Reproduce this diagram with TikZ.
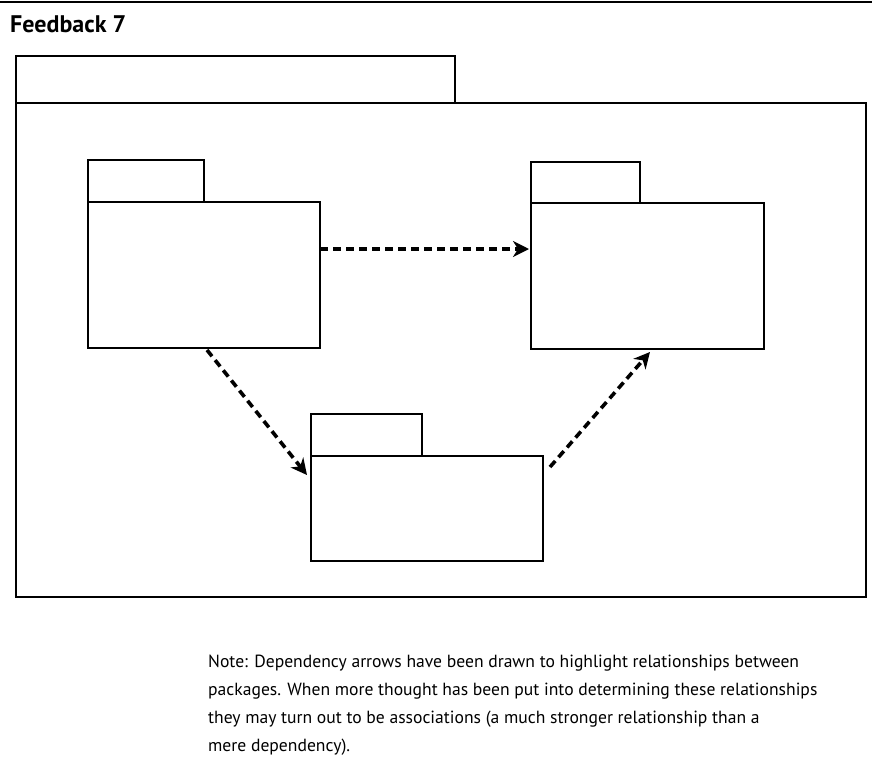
\documentclass[tikz,border=0pt]{standalone}
\usepackage{fontspec}
\setmainfont{PT Sans}
\usetikzlibrary{arrows.meta}
\begin{document}
\begin{tikzpicture}[x=1pt,y=-1pt,
  pkg/.style={draw=black,line width=1.4pt,rectangle,inner sep=0pt,outer sep=0pt,anchor=north west},
  dep/.style={line width=3.6pt,dash pattern=on 8pt off 5pt,
    -{Stealth[length=16pt,width=16pt,inset=5pt]}}]
\useasboundingbox (0,0) rectangle (872,774);
\draw[line width=1.5pt] (0,2) -- (872,2);
\node[anchor=base west,inner sep=0pt,font=\fontsize{24}{28}\selectfont\bfseries] (title) at (10,32) {Feedback 7};
% outer package
\node[pkg,minimum width=439pt,minimum height=47pt] (outerTab) at (16,56) {};
\node[pkg,minimum width=850pt,minimum height=494pt] (outerBody) at (16,103) {};
% package A
\node[pkg,minimum width=116pt,minimum height=42pt] (aTab) at (88,160) {};
\node[pkg,minimum width=232pt,minimum height=146pt] (aBody) at (88,202) {};
% package B
\node[pkg,minimum width=109pt,minimum height=41pt] (bTab) at (531,162) {};
\node[pkg,minimum width=233pt,minimum height=146pt] (bBody) at (531,203) {};
% package C
\node[pkg,minimum width=111pt,minimum height=42pt] (cTab) at (311,414) {};
\node[pkg,minimum width=232pt,minimum height=105pt] (cBody) at (311,456) {};
% dependencies
\draw[dep] ([yshift=26pt]aBody.east) -- ([xshift=-2pt,yshift=27pt]bBody.west);
\draw[dep] ([xshift=3pt,yshift=-2pt]aBody.south) -- ([xshift=-4pt,yshift=-19pt]cBody.north west);
\draw[dep] ([xshift=7pt,yshift=-11pt]cBody.north east) -- ([xshift=2.5pt,yshift=-3pt]bBody.south);
% note
\node[anchor=base west,inner sep=0pt,align=left,font=\fontsize{17.6}{28}\selectfont] (note) at (208,751)
{Note: Dependency arrows have been drawn to highlight relationships between\\
packages. When more thought has been put into determining these relationships\\
they may turn out to be associations (a much stronger relationship than a\\
mere dependency).};
\end{tikzpicture}
\end{document}
